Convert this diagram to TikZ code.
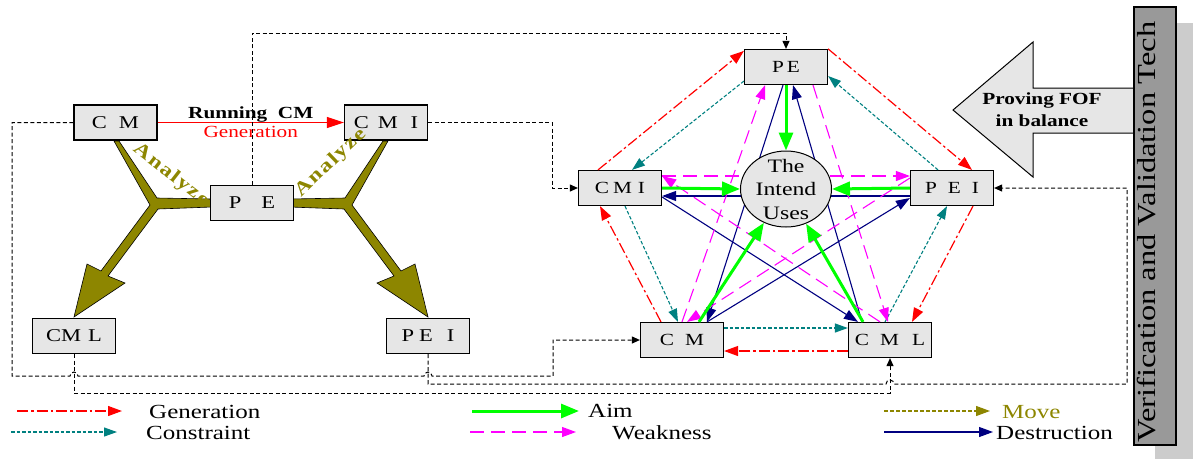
\documentclass[tikz,border=0pt]{standalone}
\usepackage{fontspec}
\setmainfont{Liberation Serif}[FakeStretch=1.25]
\usetikzlibrary{arrows.meta,shapes.geometric}

\definecolor{navy}{RGB}{0,0,128}
\definecolor{magenta}{RGB}{255,0,255}
\definecolor{boxgray}{RGB}{230,230,230}
\definecolor{bargray}{RGB}{153,153,153}
\definecolor{shadowgray}{RGB}{204,204,204}

\tikzset{
  cmbox/.style={draw,line width=1.2pt,fill=boxgray,minimum width=83pt,minimum height=35pt,inner sep=0pt},
  bigtxt/.style={font=\fontsize{18}{20}\selectfont},
  smalltxt/.style={font=\fontsize{17}{19}\selectfont},
  legtxt/.style={font=\fontsize{20}{22}\selectfont,anchor=base west,inner sep=0pt},
  anlz/.style={olive,font=\bfseries\fontsize{19}{22}\selectfont,inner sep=0pt},
  genline/.style={red,line width=1.2pt,dash pattern=on 11pt off 3pt on 2.5pt off 3pt,-{Triangle[length=14pt,width=10pt]}},
  consline/.style={teal,line width=1.1pt,dash pattern=on 3.5pt off 2pt,-{Triangle[length=13pt,width=9pt]}},
  aimline/.style={green,line width=3pt,-{Triangle[length=18pt,width=14pt]}},
  weakline/.style={magenta,line width=1.1pt,dash pattern=on 14pt off 7pt,-{Triangle[length=14pt,width=10pt]}},
  moveline/.style={olive,line width=1.2pt,dash pattern=on 4pt off 2pt,-{Triangle[length=14pt,width=10pt]}},
  destrline/.style={navy,line width=1.1pt,-{Triangle[length=14pt,width=10pt]}},
  feed/.style={black,line width=1pt,dash pattern=on 4pt off 2.5pt,-{Triangle[length=8pt,width=7pt]}}
}

\begin{document}
\begin{tikzpicture}[x=1pt,y=-1pt]
    \useasboundingbox (0,0) rectangle (1193,459);

    % analyze spikes (left one, then its mirror image)
    \filldraw[fill=olive,draw=black,line width=0.6pt]
      (114,141) -- (119,141) -- (157,198) -- (212,199) -- (212,207) -- (158,209)
      -- (108,276) -- (125,283) -- (74,317) -- (87,264) -- (101,271) -- (150,205) -- cycle;
    \begin{scope}[shift={(502,0)},xscale=-1]
    \filldraw[fill=olive,draw=black,line width=0.6pt]
      (114,141) -- (119,141) -- (157,198) -- (212,199) -- (212,207) -- (158,209)
      -- (108,276) -- (125,283) -- (74,317) -- (87,264) -- (101,271) -- (150,205) -- cycle;
    \end{scope}

    % left part
    \node[cmbox,bigtxt] (lcm)  at (115.5,122.5) {C\hspace{12pt}M};
    \node[cmbox,bigtxt] (lcmi) at (386,122.5)   {C\hspace{9pt}M\hspace{13pt}I};
    \node[cmbox,bigtxt] (lpe)  at (252,203)     {P\hspace{20pt}E};
    \node[cmbox,bigtxt] (lcml) at (74,336)      {CM\hspace{7pt}L};
    \node[cmbox,bigtxt] (lpei) at (428,336)     {P\hspace{5pt}E\hspace{14pt}I};

    \draw[red,line width=1.2pt,-{Triangle[length=17pt,width=11pt]}] (lcm.east)
      -- node[above,inner sep=0pt,text=black,font=\bfseries\fontsize{17}{20}\selectfont] (runlbl) {Running~~CM}
         node[below,inner sep=3pt,font=\fontsize{17}{20}\selectfont] (genlbl) {Generation}
      (lcmi.west);

    \node[anlz,rotate=-38] (anleft) at (171,175) {A\kern1.5pt n\kern1.5pt a\kern1.5pt l\kern1.5pt y\kern1.5pt z\kern1.5pt e};
    \node[anlz,rotate=44] (anright) at (331,163) {A\kern1.5pt n\kern1.5pt a\kern1.5pt l\kern1.5pt y\kern1.5pt z\kern1.5pt e};

    % right part
    \node[cmbox,smalltxt] (rpe)  at (786,67)  {P\hspace{3pt}E};
    \node[cmbox,smalltxt] (rcmi) at (620,188) {C\hspace{4pt}M\hspace{6pt}I};
    \node[cmbox,smalltxt] (rpei) at (952,188) {P\hspace{11pt}E\hspace{11pt}I};
    \node[cmbox,smalltxt] (rcm)  at (682,340) {C\hspace{11pt}M};
    \node[cmbox,smalltxt] (rcml) at (890,340) {C\hspace{11pt}M\hspace{13pt}L};

    % outer ring
    \draw[genline]  ([xshift=-22pt]rcmi.north) -- ([yshift=-2pt]rpe.north west);
    \draw[consline] ([yshift=4pt]rpe.south west) -- ([xshift=12pt]rcmi.north);
    \draw[genline]  (rpe.north east) -- ([xshift=20pt]rpei.north);
    \draw[consline] ([xshift=-14pt]rpei.north) -- ([yshift=-9pt]rpe.east);
    \draw[genline]  ([xshift=21pt]rpei.south) -- ([xshift=22pt]rcml.north);
    \draw[consline] ([xshift=-5pt]rcml.north) -- ([xshift=-5pt]rpei.south);
    \draw[consline] ([yshift=12pt]rcm.east) -- ([yshift=12pt]rcml.west);
    \draw[genline]  ([yshift=-11pt]rcml.west) -- ([yshift=-11pt]rcm.east);
    \draw[genline]  ([xshift=-21pt]rcm.north) -- ([xshift=-20pt]rcmi.south);
    \draw[consline] ([xshift=5pt]rcmi.south) -- ([xshift=-4pt]rcm.north);

    % destruction star
    \draw[destrline] ([xshift=-3pt]rpe.south) -- ([xshift=25pt]rcm.north);
    \draw[destrline] ([xshift=25pt]rcm.north) -- ([yshift=-10pt]rpei.west);
    \draw[destrline] ([yshift=-8pt]rpei.west) -- ([yshift=-8pt]rcmi.east);
    \draw[destrline] ([yshift=-9pt]rcmi.east) -- ([xshift=-32pt]rcml.north);
    \draw[destrline] ([xshift=-28pt]rcml.north) -- ([xshift=7pt]rpe.south);

    % weakness star
    \draw[weakline] (rcm.north) -- ([xshift=-21pt]rpe.south);
    \draw[weakline] ([xshift=27pt]rpe.south) -- ([xshift=-2pt]rcml.north);
    \draw[weakline] ([xshift=-10pt]rcml.north) -- ([yshift=12pt]rcmi.east);
    \draw[weakline] ([yshift=12pt]rcmi.east) -- ([yshift=12pt]rpei.west);
    \draw[weakline] ([yshift=10pt]rpei.west) -- ([xshift=5pt]rcm.north);

    % the centre
    \node[ellipse,draw,line width=1pt,fill=boxgray,minimum width=91pt,minimum height=76pt,
          inner xsep=1pt,inner ysep=-4pt,align=center,font=\fontsize{19}{23.5}\selectfont]
          (uses) at (786,189) {The\\Intend\\Uses};

    \draw[aimline] (rpe.south) -- (uses.north);
    \draw[aimline] (rcmi.east) -- (uses.west);
    \draw[aimline] (rpei.west) -- (uses.east);
    \draw[aimline] ([xshift=17pt]rcm.north) -- (uses);
    \draw[aimline] ([xshift=-27pt]rcml.north) -- (uses);

    % moves between the two parts
    \draw[feed] (lpe.north) -- (252,33) -| (rpe.north);
    \draw[feed] (lcmi.east) -- (552,122.5) |- (rcmi.west);
    \draw[feed] (lcm.west) -- (12,122.5) -- (12,376) -- (70,376)
      arc[start angle=180,end angle=0,radius=4pt] -- (424,376)
      arc[start angle=180,end angle=0,radius=4pt] -- (553,376) |- (rcm.west);
    \draw[feed] (lpei.south) |- (886,384)
      arc[start angle=180,end angle=0,radius=4pt] -- (1127,384) |- (rpei.east);
    \draw[feed] (lcml.south) -- (74,393) -| (rcml.south);

    % V&V bar and arrow
    \fill[shadowgray] (1155,23) rectangle (1193,459);
    \filldraw[fill=boxgray,draw=black,line width=1pt]
      (1134,88) -- (1033,88) -- (1033,42) -- (953,110) -- (1033,177) -- (1033,133) -- (1134,133) -- cycle;
    \filldraw[fill=bargray,draw=black,line width=1.2pt] (1134,7) rectangle (1176,445);
    \node[rotate=90,anchor=west,inner sep=0pt,font=\fontsize{26}{30}\selectfont] (vvtech)
      at (1147,443) {Verification and Validation Tech};
    \node[align=center,font=\bfseries\fontsize{17}{22}\selectfont] (proving) at (1042,110) {Proving FOF\\in balance};

    % legend
    \coordinate (gena) at (17,411);    \coordinate (genb) at (122,411);
    \coordinate (consa) at (11,432);   \coordinate (consb) at (117,432);
    \coordinate (aima) at (472,411);   \coordinate (aimb) at (579,411);
    \coordinate (weaka) at (470,432);  \coordinate (weakb) at (576,432);
    \coordinate (movea) at (884,411);  \coordinate (moveb) at (990,411);
    \coordinate (destra) at (884,432); \coordinate (destrb) at (993,432);

    \draw[genline] (gena) -- (genb);
    \draw[consline] (consa) -- (consb);
    \draw[aimline] (aima) -- (aimb);
    \draw[weakline] (weaka) -- (weakb);
    \draw[moveline] (movea) -- (moveb);
    \draw[destrline] (destra) -- (destrb);

    \node[legtxt] (lggen) at (149,418) {Generation};
    \node[legtxt] (lgcons) at (146,439) {Constraint};
    \node[legtxt] (lgaim) at (588,417) {Aim};
    \node[legtxt] (lgweak) at (612,439) {Weakness};
    \node[legtxt,olive] (lgmove) at (1002,418) {Move};
    \node[legtxt] (lgdestr) at (996,439) {Destruction};

\end{tikzpicture}
\end{document}
